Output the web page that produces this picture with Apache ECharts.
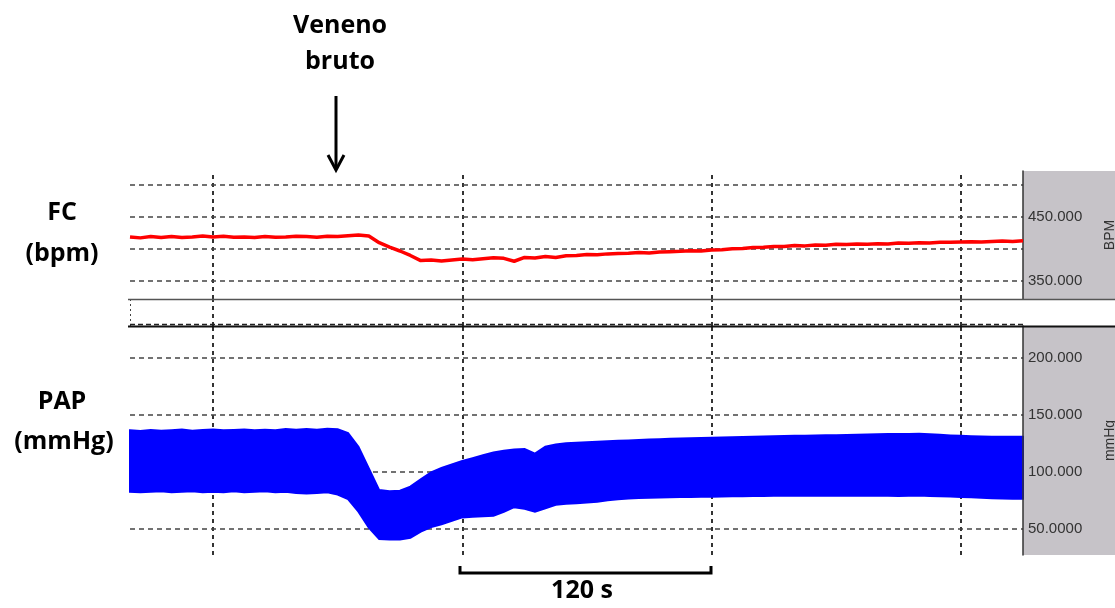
<!DOCTYPE html>
<html><head><meta charset="utf-8">
<script src="https://cdn.jsdelivr.net/npm/echarts@6/dist/echarts.min.js"></script>
<style>html,body{margin:0;padding:0;background:#fff}#c{width:1115px;height:608px}</style>
</head><body><div id="c"></div>
<script>
// time in seconds from the left edge of the trace
const time = [0,5,10,15,20,25,30,35,40,45,50,55,60,65,70,75,80,85,90,95,100,105,110,115,120,125,130,135,140,145,150,155,160,165,170,175,180,185,190,195,200,205,210,215,220,225,230,235,240,245,250,255,260,265,270,275,280,285,290,295,300,305,310,315,320,325,330,335,340,345,350,355,360,365,370,375,380,385,390,395,400,405,410,415,420,425,430];
// heart rate (bpm)
const fcBpm = [419,417.5,419.5,418,419.5,418,419,420.5,419,420,418.5,419,418,419.5,418.5,419,420,419.5,418.5,420,419.5,421,422,420.5,410,403,397,390,382,383,381.5,383,384.5,383.5,385,386.5,385.5,381,387,386,388.5,387,389.5,390,391.5,391,392.5,393,393.5,394.5,394,395.5,396,396.5,397.5,397,398.5,399,400.5,401,402.5,403,404,404,405.5,405,406.5,406,407.5,407,408,407.5,408.5,408,409.5,409,410,409.5,410.5,410.5,411,411.5,411,412,412.5,412,413];
// arterial pressure envelope (mmHg)
const papUpper = [136.5,135.8,136.8,136,136.6,137.2,136,136.8,137.2,136.4,136.8,137.2,136.4,137,136.6,137.6,137,137.6,137,137.8,137.4,134,122,103,84,83,83.5,87,93.5,99.5,103.5,106.5,109.5,112,114.5,117,118.5,119.5,120,116,122,124,125,125.5,126,126.3,126.8,127.2,127.5,128,128.3,128.6,129,129.3,129.5,129.8,130,130.2,130.4,130.6,130.8,131,131.2,131.4,131.6,131.7,131.8,132,132.2,132.4,132.6,132.8,133,133.1,133.2,133.3,133.4,133,132.6,132,131.6,131.2,131,130.8,130.8,130.7,130.7];
const papLower = [82.5,82,82.5,83,82,82.5,83,82,82.5,82,83,82,82.5,83,82,82.5,81.5,81,81.5,82,80,76,65,51,41,40.5,40.5,42,47.5,51.5,54,57,60,60.5,61,61.5,65,69,67.5,65,68,71,72,72.5,73,73.7,75,76,76.5,77,77.2,77.4,77.6,77.8,78,78.1,78.2,78.4,78.5,78.6,78.7,78.8,78.9,78.9,79,79,78.9,79,79,78.9,79,79,78.9,79,78.8,79,79.2,78.8,78.6,78.3,78,77.6,77.2,76.8,76.5,76.3,76.3];
const fcLabelValues = [350, 450];
const fcGridValues = [350, 400, 450, 500];
const papLabelValues = [50, 100, 150, 200];
const papLabelTexts = ['50.0000', '100.000', '150.000', '200.000'];
const timeGridValues = [40, 160, 280, 400];

const fcData = time.map((t, i) => [t, fcBpm[i]]);
const papData = time.map((t, i) => [t, papLower[i], papUpper[i]]);

const chart = echarts.init(document.getElementById('c'), null, {renderer: 'canvas'});
const vDash = {type: [4, 4], color: '#333', width: 2};
const hDash = {type: [5, 4], color: '#444', width: 1.5};
function mark(lines, style) {
  return {silent: true, symbol: ['none', 'none'], label: {show: false}, emphasis: {disabled: true}, animation: false, lineStyle: style, data: lines};
}
const labelStyle = {fontFamily: 'Liberation Sans', fontSize: 15, color: '#333', margin: 5};
const bold = 'bold 25px "Open Sans"';

function renderBand(params, api) {
  if (params.dataIndex !== 0) return null;
  const pts = [];
  for (let i = 0; i < time.length; i++) pts.push(api.coord([time[i], papUpper[i]]));
  for (let i = time.length - 1; i >= 0; i--) pts.push(api.coord([time[i], papLower[i]]));
  return {type: 'polygon', shape: {points: pts}, style: {fill: '#0000ff', stroke: '#0000ff', lineWidth: 2}};
}

chart.setOption({
  animation: false,
  backgroundColor: '#fff',
  grid: [
    {left: 130, top: 171, width: 893, height: 128, outerBoundsMode: 'none', containLabel: false},
    {left: 130, top: 299, width: 893, height: 27, outerBoundsMode: 'none', containLabel: false},
    {left: 130, top: 326, width: 893, height: 229, outerBoundsMode: 'none', containLabel: false}
  ],
  xAxis: [0, 1, 2].map(g => ({type: 'value', gridIndex: g, min: 0, max: 430, show: false})),
  yAxis: [
    {type: 'value', gridIndex: 0, min: 322, max: 522, position: 'right', z: 5,
     axisLine: {show: true, onZero: false, lineStyle: {color: '#333', width: 1.5}}, axisTick: {show: false}, splitLine: {show: false},
     axisLabel: Object.assign({customValues: fcLabelValues, formatter: v => v.toFixed(3)}, labelStyle),
     name: 'BPM', nameLocation: 'middle', nameRotate: 90, nameGap: 80,
     nameTextStyle: {fontFamily: 'Liberation Sans', fontSize: 14, color: '#333'}},
    {type: 'value', gridIndex: 1, min: 0, max: 1, show: false},
    {type: 'value', gridIndex: 2, min: 27, max: 228, position: 'right', z: 5,
     axisLine: {show: true, onZero: false, lineStyle: {color: '#333', width: 1.5}}, axisTick: {show: false}, splitLine: {show: false},
     axisLabel: Object.assign({customValues: papLabelValues, formatter: v => papLabelTexts[papLabelValues.indexOf(v)]}, labelStyle),
     name: 'mmHg', nameLocation: 'middle', nameRotate: 90, nameGap: 80,
     nameTextStyle: {fontFamily: 'Liberation Sans', fontSize: 14, color: '#333'}}
  ],
  series: [
    {type: 'line', xAxisIndex: 0, yAxisIndex: 0, data: [], z: 1,
     markLine: mark(timeGridValues.map(v => ({xAxis: v})).concat(fcGridValues.map(v => ({yAxis: v, lineStyle: hDash}))), vDash)},
    {type: 'line', xAxisIndex: 1, yAxisIndex: 1, data: [], z: 1,
     markLine: mark(timeGridValues.map(v => ({xAxis: v})).concat([{xAxis: 0, lineStyle: {type: [2, 3], color: '#444', width: 1}}]), vDash)},
    {type: 'line', xAxisIndex: 2, yAxisIndex: 2, data: [], z: 1,
     markLine: mark(timeGridValues.map(v => ({xAxis: v})).concat(papLabelValues.map(v => ({yAxis: v, lineStyle: hDash}))), vDash)},
    {name: 'FC', type: 'line', xAxisIndex: 0, yAxisIndex: 0, data: fcData, z: 5, symbol: 'none', sampling: false,
     lineStyle: {color: '#ff0000', width: 3.5}},
    {name: 'PAP', type: 'custom', xAxisIndex: 2, yAxisIndex: 2, data: papData, z: 5, silent: true,
     encode: {x: 0, y: [1, 2]}, renderItem: renderBand}
  ],
  graphic: [
    {type: 'rect', z: 0, shape: {x: 1023, y: 171, width: 92, height: 128}, style: {fill: '#c6c3c8'}},
    {type: 'rect', z: 0, shape: {x: 1023, y: 326, width: 92, height: 229}, style: {fill: '#c6c3c8'}},
    {type: 'line', z: 10, shape: {x1: 128, y1: 299.5, x2: 1115, y2: 299.5}, style: {stroke: '#555', lineWidth: 1.5}},
    {type: 'line', z: 10, shape: {x1: 130, y1: 324.5, x2: 1023, y2: 324.5}, style: {stroke: '#222', lineWidth: 1.5, lineDash: [5, 3]}},
    {type: 'line', z: 10, shape: {x1: 128, y1: 326.5, x2: 1115, y2: 326.5}, style: {stroke: '#111', lineWidth: 2}},
    {type: 'line', z: 10, shape: {x1: 336, y1: 96, x2: 336, y2: 169}, style: {stroke: '#000', lineWidth: 3}},
    {type: 'polyline', z: 10, shape: {points: [[328, 155], [336, 170], [344, 155]]}, style: {stroke: '#000', lineWidth: 3, fill: null}},
    {type: 'polyline', z: 10, shape: {points: [[460, 566], [460, 573], [711, 573], [711, 566]]}, style: {stroke: '#000', lineWidth: 3, fill: null}},
    {type: 'text', z: 10, style: {text: 'Veneno', x: 340, y: 26, font: bold, textAlign: 'center', textVerticalAlign: 'middle', fill: '#000'}},
    {type: 'text', z: 10, style: {text: 'bruto', x: 340, y: 62, font: bold, textAlign: 'center', textVerticalAlign: 'middle', fill: '#000'}},
    {type: 'text', z: 10, style: {text: 'FC', x: 62, y: 213, font: bold, textAlign: 'center', textVerticalAlign: 'middle', fill: '#000'}},
    {type: 'text', z: 10, style: {text: '(bpm)', x: 62, y: 254, font: bold, textAlign: 'center', textVerticalAlign: 'middle', fill: '#000'}},
    {type: 'text', z: 10, style: {text: 'PAP', x: 62, y: 402, font: bold, textAlign: 'center', textVerticalAlign: 'middle', fill: '#000'}},
    {type: 'text', z: 10, style: {text: '(mmHg)', x: 64, y: 442, font: bold, textAlign: 'center', textVerticalAlign: 'middle', fill: '#000'}},
    {type: 'text', z: 10, style: {text: '120 s', x: 582, y: 591, font: bold, textAlign: 'center', textVerticalAlign: 'middle', fill: '#000'}}
  ]
});
</script></body></html>
